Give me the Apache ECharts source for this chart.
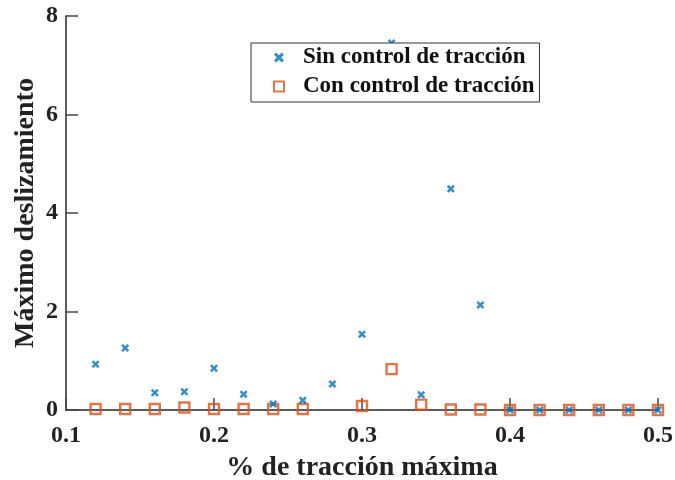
<!DOCTYPE html>
<html><head><meta charset="utf-8">
<script src="https://cdn.jsdelivr.net/npm/echarts@6/dist/echarts.min.js"></script>
<style>html,body{margin:0;padding:0;background:#fff}#c{width:675px;height:480px}</style>
</head><body><div id="c"></div>
<script>
const xValues = [0.12,0.14,0.16,0.18,0.20,0.22,0.24,0.26,0.28,0.30,0.32,0.34,0.36,0.38,0.40,0.42,0.44,0.46,0.48,0.50];
const sinControl = [0.93,1.26,0.35,0.37,0.85,0.32,0.12,0.20,0.53,1.54,7.45,0.31,4.49,2.13,0,0,0,0,0,0];
const conControl = [0.02,0.02,0.02,0.05,0.02,0.02,0.02,0.02,null,0.08,0.83,0.11,0.01,0.01,0,0,0,0,0,0];
const seriesNames = ['Sin control de tracción','Con control de tracción'];
const xTitle = '% de tracción máxima';
const yTitle = 'Máximo deslizamiento';

const font = '"Liberation Serif","DejaVu Serif",serif';
const pair = (ys) => xValues.map((x,i)=>[x, ys[i]]).filter(p=>p[1]!==null);
const xPath = 'path://M0,2.2L2.2,0L5,2.8L7.8,0L10,2.2L7.2,5L10,7.8L7.8,10L5,7.2L2.2,10L0,7.8L2.8,5Z';

const chart = echarts.init(document.getElementById('c'), null, {renderer:'canvas'});
chart.setOption({
  animation:false,
  backgroundColor:'#fff',
  grid:{left:66,right:17,top:16,bottom:70,outerBoundsMode:'none',containLabel:false},
  xAxis:{type:'value',min:0.1,max:0.5,interval:0.1,
    name:xTitle,nameLocation:'middle',nameGap:44,
    nameTextStyle:{fontFamily:font,fontWeight:'bold',fontSize:28,color:'#222'},
    axisLine:{lineStyle:{color:'#262626',width:1.5}},
    axisTick:{inside:true,length:12,lineStyle:{color:'#444',width:1.5}},
    axisLabel:{fontFamily:font,fontWeight:'bold',fontSize:24,color:'#222',margin:14,
      formatter:v=>v.toFixed(1)},
    splitLine:{show:false}},
  yAxis:{type:'value',min:0,max:8,interval:2,
    name:yTitle,nameLocation:'middle',nameGap:26,nameRotate:90,nameMoveOverlap:false,
    nameTextStyle:{fontFamily:font,fontWeight:'bold',fontSize:28,color:'#222'},
    axisLine:{show:true,lineStyle:{color:'#262626',width:1.5}},
    axisTick:{show:true,inside:true,length:12,lineStyle:{color:'#444',width:1.5}},
    axisLabel:{fontFamily:font,fontWeight:'bold',fontSize:24,color:'#222',margin:8},
    splitLine:{show:false}},
  legend:{
    left:251,top:43,orient:'vertical',
    backgroundColor:'#fff',borderColor:'#333',borderWidth:1,
    padding:[3,5,4,22],itemGap:6,itemWidth:10,itemHeight:10,z:20,
    textStyle:{fontFamily:font,fontWeight:'bold',fontSize:23,color:'#111',padding:[0,0,0,14],lineHeight:23},
    data:seriesNames
  },
  series:[
    {name:seriesNames[0],type:'scatter',data:pair(sinControl),symbol:xPath,symbolSize:8,clip:false,z:3,
      itemStyle:{color:'#0072BD'}},
    {name:seriesNames[1],type:'scatter',data:pair(conControl),symbol:'rect',symbolSize:10,clip:false,z:2,
      itemStyle:{color:'rgba(255,255,255,0)',borderColor:'#D95319',borderWidth:2.4}}
  ]
});
</script></body></html>
